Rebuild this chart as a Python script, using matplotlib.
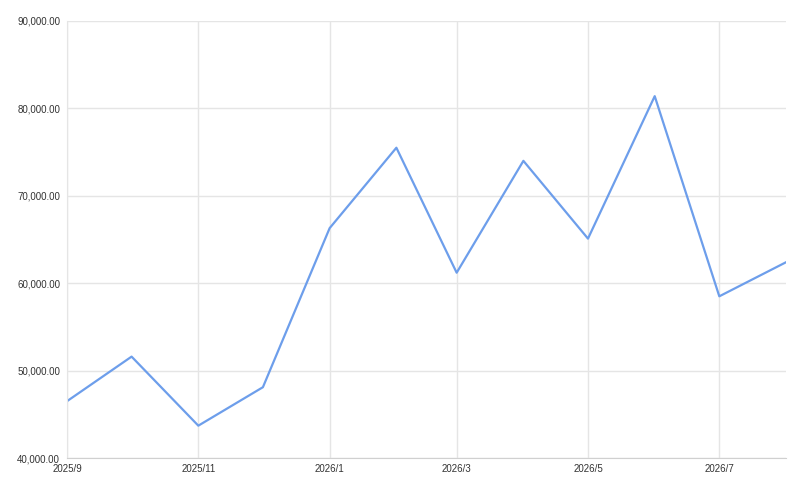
import datetime as dt
import matplotlib.pyplot as plt
from matplotlib.ticker import FuncFormatter

plt.rcParams['font.family'] = ['Liberation Sans', 'DejaVu Sans']

# monthly values
months = [(2025, 9), (2025, 10), (2025, 11), (2025, 12), (2026, 1), (2026, 2),
          (2026, 3), (2026, 4), (2026, 5), (2026, 6), (2026, 7), (2026, 8)]
values = [46500, 51600, 43700, 48100, 66300, 75500,
          61200, 74000, 65100, 81400, 58500, 62400]
tick_months = [(2025, 9), (2025, 11), (2026, 1), (2026, 3), (2026, 5), (2026, 7)]
y_ticks = [40000, 50000, 60000, 70000, 80000, 90000]

dates = [dt.date(y, m, 1) for y, m in months]
tick_dates = [dt.date(y, m, 1) for y, m in tick_months]

fig = plt.figure(figsize=(8, 4.86), dpi=100)
ax = fig.add_axes([0.08375, 0.0576, 0.8988, 0.8992])

ax.plot(dates, values, color='#6d9eeb', lw=1.6)

ax.set_xlim(dates[0], dates[-1])
ax.set_ylim(40000, 90000)
ax.set_xticks(tick_dates)
ax.set_xticklabels([f'{y}/{m}' for y, m in tick_months])
ax.set_yticks(y_ticks)
ax.yaxis.set_major_formatter(FuncFormatter(lambda v, p: f'{v:,.2f}'))

ax.grid(True, color='#e5e5e5', lw=1)
ax.set_axisbelow(True)
for s in ['top', 'right']:
    ax.spines[s].set_visible(False)
ax.spines['left'].set_color('#e5e5e5')
ax.spines['bottom'].set_color('#d0d0d0')
ax.tick_params(length=0, labelsize=7, colors='#333333')
ax.tick_params(axis='y', pad=5)
ax.tick_params(axis='x', pad=4)

fig.savefig('out.png', dpi=100)
